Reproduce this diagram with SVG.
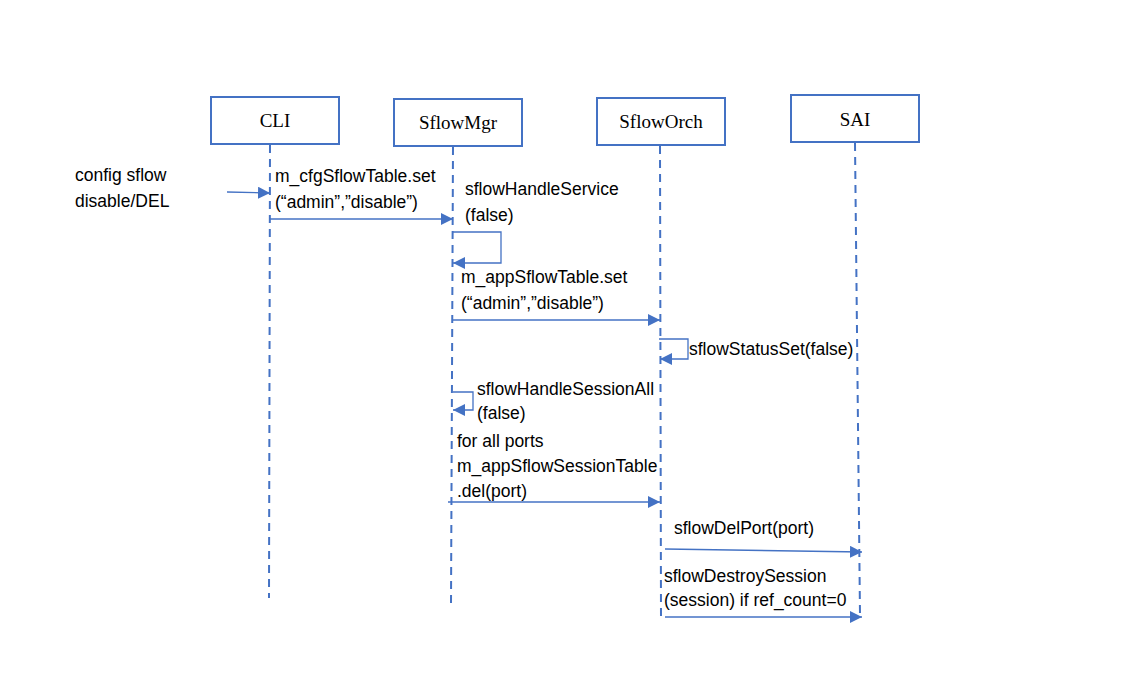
<svg xmlns="http://www.w3.org/2000/svg" width="1123" height="682" viewBox="0 0 1123 682">
<style>
.box{fill:#fff;stroke:#4472C4;stroke-width:2}
.title{font-family:"Liberation Serif",serif;font-size:19px;fill:#000;text-anchor:middle}
.life{stroke:#4472C4;stroke-width:2;stroke-dasharray:8 6;fill:none}
.msg{stroke:#4472C4;stroke-width:1.3;fill:none}
.lbl{font-family:"Liberation Sans",Arial,sans-serif;font-size:17.5px;fill:#000}
</style>
<defs>
<marker id="ah" markerUnits="userSpaceOnUse" markerWidth="13" markerHeight="12" refX="12" refY="6" orient="auto">
<path d="M0,0 L12,6 L0,12 z" fill="#4472C4"/>
</marker>
</defs>
<rect width="1123" height="682" fill="#fff"/>
<g id="CLI">
<rect class="box" x="211" y="97" width="128" height="47"/>
<text class="title" x="275" y="127">CLI</text>
<line class="life" x1="270" y1="145" x2="269" y2="598"/>
</g>
<g id="SflowMgr">
<rect class="box" x="394" y="99" width="128" height="47"/>
<text class="title" x="458" y="129">SflowMgr</text>
<line class="life" x1="453" y1="147" x2="451" y2="606"/>
</g>
<g id="SflowOrch">
<rect class="box" x="597" y="98" width="128" height="47"/>
<text class="title" x="661" y="128">SflowOrch</text>
<line class="life" x1="660" y1="146" x2="661" y2="620"/>
</g>
<g id="SAI">
<rect class="box" x="791" y="95" width="128" height="47"/>
<text class="title" x="855" y="126">SAI</text>
<line class="life" x1="855" y1="143" x2="860" y2="615"/>
</g>
<g id="connectors">
<line class="msg" x1="227" y1="192" x2="270" y2="193" marker-end="url(#ah)"/>
<line class="msg" x1="270" y1="219" x2="453" y2="219" marker-end="url(#ah)"/>
<path class="msg" d="M453,232 H501 V263 H453" marker-end="url(#ah)"/>
<line class="msg" x1="453" y1="320" x2="660" y2="320" marker-end="url(#ah)"/>
<path class="msg" d="M659,339 H688 V359 H660" marker-end="url(#ah)"/>
<path class="msg" d="M453,392 H473 V410 H453" marker-end="url(#ah)"/>
<line class="msg" x1="448" y1="502" x2="660" y2="502" marker-end="url(#ah)"/>
<line class="msg" x1="665" y1="549" x2="862" y2="552" marker-end="url(#ah)"/>
<line class="msg" x1="665" y1="617" x2="862" y2="617" marker-end="url(#ah)"/>
</g>
<g id="labels">
<text class="lbl" x="75" y="181">config sflow</text>
<text class="lbl" x="75" y="207">disable/DEL</text>
<text class="lbl" x="275" y="182">m_cfgSflowTable.set</text>
<text class="lbl" x="275" y="208">(“admin”,”disable”)</text>
<text class="lbl" x="465" y="195">sflowHandleService</text>
<text class="lbl" x="465" y="221">(false)</text>
<text class="lbl" x="461" y="283">m_appSflowTable.set</text>
<text class="lbl" x="461" y="309">(“admin”,”disable”)</text>
<text class="lbl" x="689" y="355">sflowStatusSet(false)</text>
<text class="lbl" x="477" y="395">sflowHandleSessionAll</text>
<text class="lbl" x="477" y="419">(false)</text>
<text class="lbl" x="457" y="447">for all ports</text>
<text class="lbl" x="457" y="472">m_appSflowSessionTable</text>
<text class="lbl" x="457" y="497">.del(port)</text>
<text class="lbl" x="674" y="534">sflowDelPort(port)</text>
<text class="lbl" x="664" y="582">sflowDestroySession</text>
<text class="lbl" x="664" y="606">(session) if ref_count=0</text>
</g>
</svg>
